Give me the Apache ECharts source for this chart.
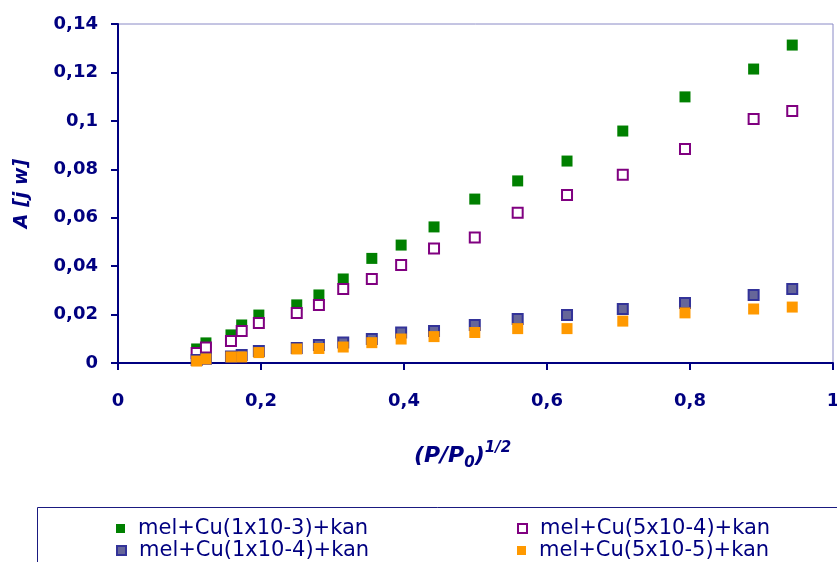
<!DOCTYPE html>
<html>
<head>
<meta charset="utf-8">
<style>
  html, body { margin: 0; padding: 0; background: #ffffff; }
  #chart { width: 837px; height: 562px; }
</style>
<script src="https://cdn.jsdelivr.net/npm/echarts@6/dist/echarts.min.js"></script>
</head>
<body>
<div id="chart"></div>
<script>
// (P/P0)^1/2 values shared by all four series
var xValues = [0.110, 0.123, 0.158, 0.173, 0.197, 0.250, 0.281, 0.315, 0.355,
               0.396, 0.442, 0.499, 0.559, 0.628, 0.706, 0.793, 0.889, 0.943];

// Absorbance A [j w] for each sample
var cu1e3 = [0.0058, 0.0083, 0.0116, 0.0157, 0.0198, 0.0240, 0.0281, 0.0347, 0.0432,
             0.0487, 0.0562, 0.0677, 0.0752, 0.0834, 0.0958, 0.1099, 0.1214, 0.1313];
var cu5e4 = [0.0041, 0.0064, 0.0091, 0.0132, 0.0165, 0.0207, 0.0240, 0.0306, 0.0347,
             0.0405, 0.0473, 0.0518, 0.0620, 0.0694, 0.0777, 0.0884, 0.1008, 0.1041];
var cu1e4 = [0.0012, 0.0018, 0.0027, 0.0033, 0.0050, 0.0062, 0.0074, 0.0085, 0.0099,
             0.0126, 0.0132, 0.0157, 0.0182, 0.0198, 0.0223, 0.0248, 0.0281, 0.0306];
var cu5e5 = [0.0008, 0.0017, 0.0025, 0.0025, 0.0043, 0.0058, 0.0060, 0.0066, 0.0084,
             0.0099, 0.0109, 0.0126, 0.0142, 0.0142, 0.0173, 0.0207, 0.0223, 0.0231];

var seriesNames = ['mel+Cu(1x10-3)+kan', 'mel+Cu(5x10-4)+kan',
                   'mel+Cu(1x10-4)+kan', 'mel+Cu(5x10-5)+kan'];

var yTicks = { min: 0, max: 0.14, step: 0.02 };
var xTicks = { min: 0, max: 1, step: 0.2 };

function pairs(ys) {
  return xValues.map(function (x, i) { return [x, ys[i]]; });
}
function comma(v) { return String(v).replace('.', ','); }

var NAVY = '#000080';
var FONT = 'DejaVu Sans';

var chart = echarts.init(document.getElementById('chart'), null, { renderer: 'canvas' });

// one legend entry per component, laid out as a 2x2 block
function legendEntry(name, left, top) {
  return {
    left: left, top: top, itemWidth: 9, itemHeight: 9,
    data: [name],
    textStyle: { fontFamily: FONT, fontSize: 21, color: NAVY, padding: [0, 0, 0, 8] }
  };
}

chart.setOption({
  animation: false,
  backgroundColor: '#ffffff',
  grid: {
    left: 118, right: 4, top: 24, bottom: 199,
    containLabel: false, outerBoundsMode: 'none',
    show: true, borderColor: '#8a8ac6', borderWidth: 1, backgroundColor: 'transparent'
  },
  xAxis: {
    type: 'value',
    min: xTicks.min, max: xTicks.max, interval: xTicks.step,
    name: '{a|(P/P}{b|0}{a|)}{c|1/2}',
    nameLocation: 'middle',
    nameGap: 78,
    nameTextStyle: {
      padding: [0, 26, 0, 0],
      rich: {
        a: { fontFamily: FONT, fontSize: 22, fontWeight: 'bold', fontStyle: 'italic',
             color: NAVY, lineHeight: 30, verticalAlign: 'middle' },
        b: { fontFamily: FONT, fontSize: 15, fontWeight: 'bold', fontStyle: 'italic',
             color: NAVY, lineHeight: 15, verticalAlign: 'bottom' },
        c: { fontFamily: FONT, fontSize: 15, fontWeight: 'bold', fontStyle: 'italic',
             color: NAVY, lineHeight: 15, verticalAlign: 'top' }
      }
    },
    axisLine: { show: true, onZero: false, lineStyle: { color: NAVY, width: 2 } },
    axisTick: { show: true, inside: false, length: 7, lineStyle: { color: NAVY, width: 2 } },
    axisLabel: {
      margin: 29, fontFamily: FONT, fontSize: 18, fontWeight: 'bold', color: NAVY,
      formatter: comma, showMaxLabel: true, showMinLabel: true
    },
    splitLine: { show: false }
  },
  yAxis: {
    type: 'value',
    min: yTicks.min, max: yTicks.max, interval: yTicks.step,
    name: 'A [j w]',
    nameLocation: 'middle',
    nameGap: 86,
    nameRotate: 90,
    nameTextStyle: {
      fontFamily: FONT, fontSize: 19, fontWeight: 'bold', fontStyle: 'italic', color: NAVY
    },
    axisLine: { show: true, onZero: false, lineStyle: { color: NAVY, width: 2 } },
    axisTick: { show: true, inside: false, length: 7, lineStyle: { color: NAVY, width: 2 } },
    axisLabel: {
      margin: 20, fontFamily: FONT, fontSize: 18, fontWeight: 'bold', color: NAVY,
      formatter: comma
    },
    splitLine: { show: false }
  },
  legend: [
    legendEntry(seriesNames[0], 111, 513),
    legendEntry(seriesNames[2], 111, 535),
    legendEntry(seriesNames[1], 512, 513),
    legendEntry(seriesNames[3], 512, 535)
  ],
  graphic: [
    {
      type: 'rect', silent: true, z: 0,
      shape: { x: 37.5, y: 507.5, width: 820, height: 80 },
      style: { fill: 'none', stroke: '#1a1a80', lineWidth: 1 }
    }
  ],
  series: [
    {
      name: seriesNames[0], type: 'scatter', symbol: 'rect', symbolSize: 11,
      itemStyle: { color: '#008000', opacity: 1 },
      data: pairs(cu1e3), z: 2
    },
    {
      name: seriesNames[1], type: 'scatter', symbol: 'rect', symbolSize: 10,
      itemStyle: { color: '#ffffff', borderColor: '#800080', borderWidth: 2, opacity: 1 },
      data: pairs(cu5e4), z: 3
    },
    {
      name: seriesNames[2], type: 'scatter', symbol: 'rect', symbolSize: 10,
      itemStyle: { color: '#666699', borderColor: '#333399', borderWidth: 2, opacity: 1 },
      data: pairs(cu1e4), z: 4
    },
    {
      name: seriesNames[3], type: 'scatter', symbol: 'rect', symbolSize: 11,
      itemStyle: { color: '#ff9900', opacity: 1 },
      data: pairs(cu5e5), z: 5
    }
  ]
});
</script>
</body>
</html>
